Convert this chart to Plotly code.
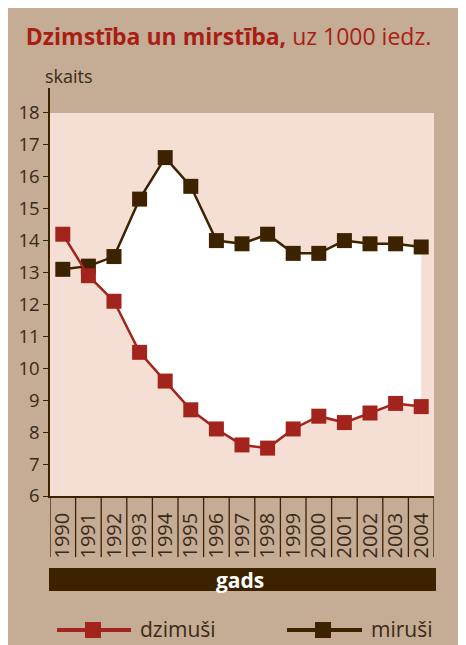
import plotly.graph_objects as go

years = [str(y) for y in range(1990, 2005)]
dzimusi = [14.2, 12.9, 12.1, 10.5, 9.6, 8.7, 8.1, 7.6, 7.5, 8.1, 8.5, 8.3, 8.6, 8.9, 8.8]
mirusi = [13.1, 13.2, 13.5, 15.3, 16.6, 15.7, 14.0, 13.9, 14.2, 13.6, 13.6, 14.0, 13.9, 13.9, 13.8]
y_ticks = list(range(6, 19))

RED = '#A3241C'
BROWN = '#3D2200'
TEXT = '#3B2A18'
TAN = '#C5AC94'
PINK = '#F5DFD5'

# page body margin, plot area in figure pixels
OFF = 8
L, T, W, H = 42, 80, 384, 408
FONT = 'Open Sans'


def px(x):
    # page pixel -> paper x
    return (x - OFF - L) / W


def py(y):
    # page pixel -> paper y
    return (T + H - (y - OFF)) / H


def dy(y):
    # page pixel -> pixel offset from plot bottom (up is positive)
    return T + H - (y - OFF)


fig = go.Figure()

# white area under deaths, then pink area under births -> white only between
fig.add_trace(go.Scatter(x=years, y=mirusi, mode='none', fill='tozeroy',
                         fillcolor='white', showlegend=False, hoverinfo='skip'))
fig.add_trace(go.Scatter(x=years, y=dzimusi, mode='none', fill='tozeroy',
                         fillcolor=PINK, showlegend=False, hoverinfo='skip'))

fig.add_trace(go.Scatter(
    x=years, y=mirusi, mode='lines+markers', name='miruši',
    line=dict(color=BROWN, width=2.5),
    marker=dict(symbol='square', size=15, color=BROWN),
    showlegend=False
))
fig.add_trace(go.Scatter(
    x=years, y=dzimusi, mode='lines+markers', name='dzimuši',
    line=dict(color=RED, width=2.5),
    marker=dict(symbol='square', size=15, color=RED),
    showlegend=False
))

shapes = [
    # pink plot background 6..18
    dict(type='rect', xref='paper', yref='y', x0=0, x1=1, y0=min(y_ticks), y1=max(y_ticks),
         fillcolor=PINK, line_width=0, layer='below'),
    # "gads" bar
    dict(type='rect', xref='paper', yref='paper', xsizemode='pixel', ysizemode='pixel',
         xanchor=0, yanchor=0, x0=-1, x1=W + 2, y0=dy(591), y1=dy(568),
         fillcolor=BROWN, line_width=0),
]

# cell separators under the year labels
for i in range(len(years) + 1):
    shapes.append(dict(type='line', xref='x', yref='paper', ysizemode='pixel', yanchor=0,
                       x0=i - 0.5, x1=i - 0.5, y0=0, y1=dy(557),
                       line=dict(color=BROWN, width=1.3)))

# legend drawn by hand
legend = [(57, 131, 93, 140, RED, 'dzimuši'), (287, 362, 323, 371, BROWN, 'miruši')]
annotations = []
for x0, x1, xm, xt, col, label in legend:
    shapes.append(dict(type='line', xref='paper', yref='paper', ysizemode='pixel', yanchor=0,
                       x0=px(x0), x1=px(x1), y0=dy(630), y1=dy(630),
                       line=dict(color=col, width=4)))
    shapes.append(dict(type='rect', xref='paper', yref='paper', xsizemode='pixel',
                       ysizemode='pixel', xanchor=px(xm), yanchor=0,
                       x0=-8, x1=8, y0=dy(630) - 8, y1=dy(630) + 8,
                       fillcolor=col, line_width=0))
    annotations.append(dict(text=label, xref='paper', yref='paper', x=px(xt - 2), y=py(629),
                            xanchor='left', yanchor='middle', showarrow=False,
                            font=dict(size=21, color=TEXT, family=FONT)))

annotations += [
    dict(text='skaits', xref='paper', yref='paper', x=px(43), y=py(76),
         xanchor='left', yanchor='middle', showarrow=False,
         font=dict(size=18, color=TEXT, family=FONT)),
    dict(text='<b>gads</b>', xref='paper', yref='paper', x=px(240), y=py(580),
         xanchor='center', yanchor='middle', showarrow=False,
         font=dict(size=21, color='white', family=FONT)),
]

fig.update_xaxes(
    type='category',
    range=[-0.5, len(years) - 0.5],
    tickangle=-90,
    ticks='outside',
    ticklen=7,
    tickcolor='rgba(0,0,0,0)',
    showline=True,
    linecolor=BROWN,
    linewidth=1.5,
    showgrid=False,
    zeroline=False,
    automargin=False,
    tickfont=dict(size=20, color=TEXT, family=FONT),
)

fig.update_yaxes(
    range=[6, 18.78],
    tickvals=y_ticks,
    ticks='outside',
    ticklen=5,
    tickcolor=BROWN,
    showline=True,
    linecolor=BROWN,
    linewidth=1.5,
    showgrid=False,
    zeroline=False,
    automargin=False,
    tickfont=dict(size=18.5, color=TEXT, family=FONT),
)

fig.update_layout(
    width=466,
    height=645,
    margin=dict(l=L, r=466 - L - W, t=T, b=645 - T - H),
    paper_bgcolor=TAN,
    plot_bgcolor=TAN,
    title=dict(
        text='<b>Dzimstība un mirstība,</b> uz 1000 iedz.',
        x=(228.5 - OFF) / 466, xanchor='center',
        y=1 - (37 - OFF) / 645, yanchor='middle',
        font=dict(size=23, color='#A81E14', family=FONT),
    ),
    shapes=shapes,
    annotations=annotations,
    font=dict(family=FONT, color=TEXT),
)

fig.write_html('out.html')
